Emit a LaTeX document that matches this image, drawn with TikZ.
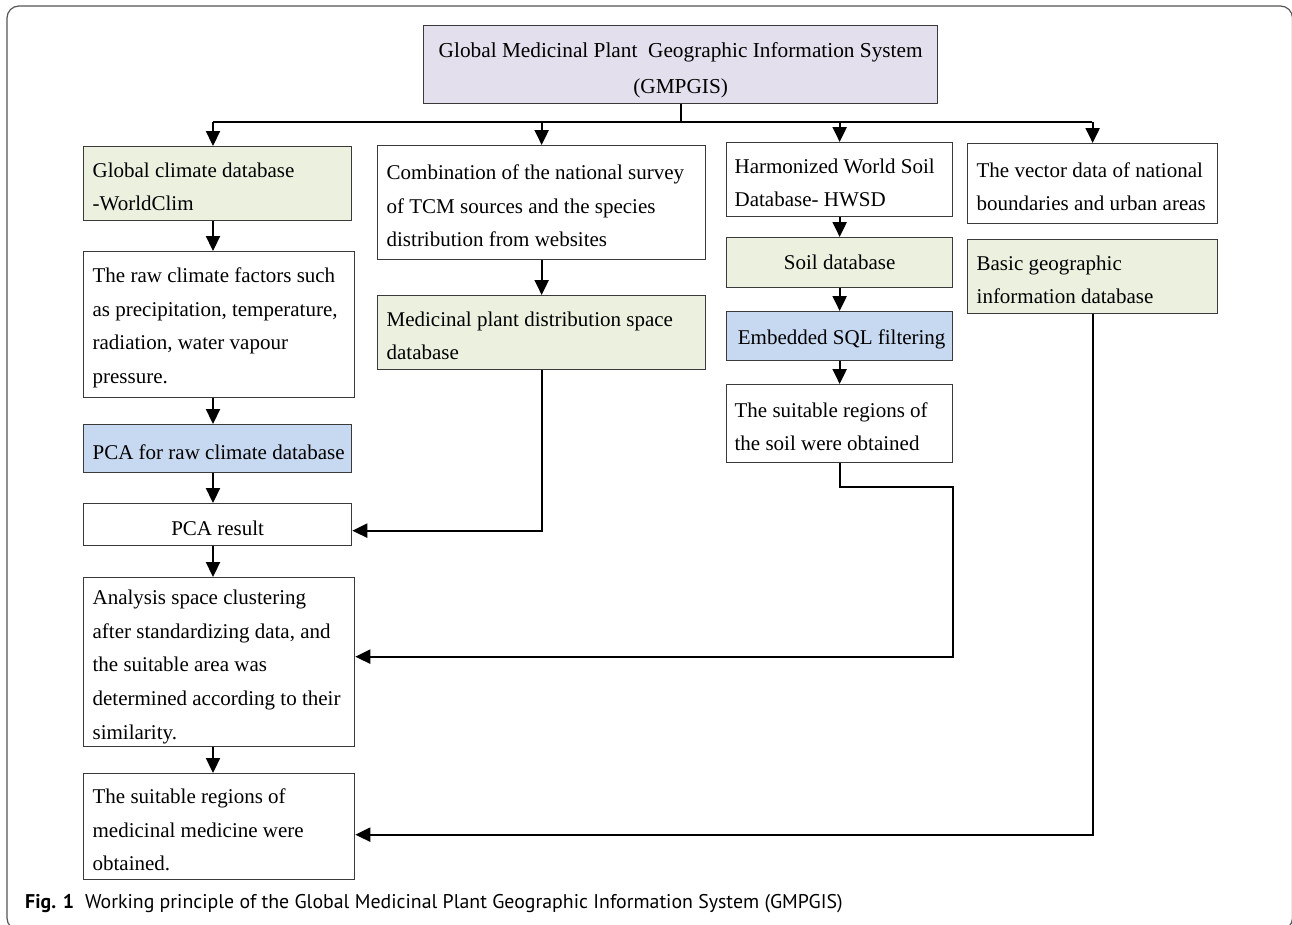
\documentclass[tikz,border=0pt]{standalone}
\usepackage{fontspec}
\setmainfont{Liberation Serif}
\newfontfamily\capfont{PT Sans}
\usetikzlibrary{arrows.meta}
\definecolor{pur}{HTML}{E4DFEC}
\definecolor{grn}{HTML}{EBF1DE}
\definecolor{blu}{HTML}{C6D9F1}
\definecolor{bord}{HTML}{3A3A3A}
\definecolor{frm}{HTML}{555555}
\newcommand\fixsp{\spaceskip=0pt\relax\xspaceskip=0pt\relax}
\begin{document}
\begin{tikzpicture}[x=1pt,y=-1pt,
 bx/.style={draw=bord, line width=1.3pt, anchor=north west, inner xsep=9pt, inner ysep=0pt, font=\fontsize{21}{33.6}\selectfont, align=left, execute at begin node={\fixsp\rule{0pt}{21pt}}},
 arr/.style={line width=2.2pt, -{Triangle[length=15pt,width=14pt]}},
 ln/.style={line width=2.2pt}]
\useasboundingbox (0,0) rectangle (1292,924);
\clip (0,0) rectangle (1292,924);
\draw[frm, line width=1.2pt, rounded corners=12pt] (7,6) rectangle (1292.5,930);

% top
\node[bx, fill=pur, align=center, minimum width=514pt, minimum height=78pt, font=\fontsize{21.3}{36}\selectfont, execute at begin node={\fixsp}] (top) at (423,25) {\rule{0pt}{27pt}Global Medicinal Plant\ \ Geographic Information System\\(GMPGIS)};

% column 1
\node[bx, fill=grn, minimum width=268pt, minimum height=74pt, text width=250pt] (wc) at (83,146) {\mbox{Global climate database}\\\mbox{-WorldClim}};
\node[bx, fill=white, minimum width=271pt, minimum height=146pt, text width=253pt] (raw) at (83,251) {\mbox{The raw climate factors such}\\\mbox{as precipitation, temperature,}\\\mbox{radiation, water vapour}\\\mbox{pressure.}};
\node[bx, fill=blu, minimum width=268pt, minimum height=48pt, text width=250pt] (pcaraw) at (83,424) {\mbox{PCA for raw climate database}};
\node[bx, fill=white, align=center, minimum width=268pt, minimum height=42pt] (pcares) at (83,503) {PCA result};
\node[bx, fill=white, minimum width=271pt, minimum height=169pt, text width=253pt, execute at begin node={\fixsp\rule{0pt}{24pt}}] (ana) at (83,577) {\mbox{Analysis space clustering}\\\mbox{after standardizing data, and}\\\mbox{the suitable area was}\\\mbox{determined according to their}\\\mbox{similarity.}};
\node[bx, fill=white, minimum width=271pt, minimum height=106pt, text width=253pt] (fin) at (83,773) {\mbox{The suitable regions of}\\\mbox{medicinal medicine were}\\\mbox{obtained.}};

% column 2
\node[bx, fill=white, minimum width=328pt, minimum height=114pt, text width=310pt] (comb) at (377,145) {\mbox{Combination of the national survey}\\\mbox{of TCM sources and the species}\\\mbox{distribution from websites}};
\node[bx, fill=grn, minimum width=328pt, minimum height=74pt, text width=310pt] (med) at (377,295) {\mbox{Medicinal plant distribution space}\\\mbox{database}};

% column 3
\node[bx, fill=white, inner xsep=8pt, minimum width=226pt, minimum height=74pt, text width=210pt] (hwsd) at (726,142) {\mbox{Harmonized World Soil}\\\mbox{Database- HWSD}};
\node[bx, fill=grn, align=center, minimum width=226pt, minimum height=50pt, execute at begin node={\fixsp}] (soil) at (726,237) {Soil database\rule[-8pt]{0pt}{8pt}};
\node[bx, fill=blu, align=center, inner xsep=3pt, minimum width=226pt, minimum height=49pt, execute at begin node={\fixsp\rule{0pt}{22pt}}] (sql) at (726,311) {\hspace{4pt}Embedded SQL filtering};
\node[bx, fill=white, inner xsep=8pt, minimum width=226pt, minimum height=78pt, text width=210pt] (soilok) at (726,384) {\mbox{The suitable regions of}\\\mbox{the soil were obtained}};

% column 4
\node[bx, fill=white, minimum width=250pt, minimum height=80pt, text width=232pt] (vec) at (967,143) {\mbox{The vector data of national}\\\mbox{boundaries and urban areas}};
\node[bx, fill=grn, minimum width=250pt, minimum height=74pt, text width=232pt] (geo) at (967,239) {\mbox{Basic geographic}\\\mbox{information database}};

% bus
\coordinate (busL) at (213,122);
\coordinate (busR) at (1092,122);
\coordinate (c1) at (213,0);
\draw[ln] (top.south) -- (top.south |- busL);
\draw[ln] (busL) -- (busR);
\draw[arr] (busL) -- (wc.north -| busL);
\draw[arr] (comb.north |- busL) -- (comb.north);
\draw[arr] (hwsd.north |- busL) -- (hwsd.north);
\draw[arr] (vec.north |- busL) -- (vec.north);

% column 1 arrows
\draw[arr] (wc.south -| c1) -- (raw.north -| c1);
\draw[arr] (raw.south -| c1) -- (pcaraw.north -| c1);
\draw[arr] (pcaraw.south -| c1) -- (pcares.north -| c1);
\draw[arr] (pcares.south -| c1) -- (ana.north -| c1);
\draw[arr] (ana.south -| c1) -- (fin.north -| c1);

% column 2
\draw[arr] (comb.south) -- (med.north);
\coordinate (prIn) at ([yshift=-6pt]pcares.east);
\draw[arr] (med.south) |- (prIn);

% column 3
\draw[arr] (hwsd.south) -- (soil.north);
\draw[arr] (soil.south) -- (sql.north);
\draw[arr] (sql.south) -- (soilok.north);
\coordinate (anaIn) at ([yshift=5.5pt]ana.east);
\coordinate (k1) at ([yshift=-24pt]soilok.south);
\draw[arr] (soilok.south) -- (k1) -- (k1 -| soilok.east) -- (anaIn -| soilok.east) -- (anaIn);

% column 4
\coordinate (finIn) at ([yshift=-8pt]fin.east);
\draw[arr] (geo.south) |- (finIn);

% caption
\node[anchor=base west, inner sep=0pt, font=\capfont\fontsize{19.85}{24}\selectfont] (cap) at (25,908) {\textbf{Fig. 1}\hspace{11pt}Working principle of the Global Medicinal Plant Geographic Information System (GMPGIS)};
\end{tikzpicture}
\end{document}
